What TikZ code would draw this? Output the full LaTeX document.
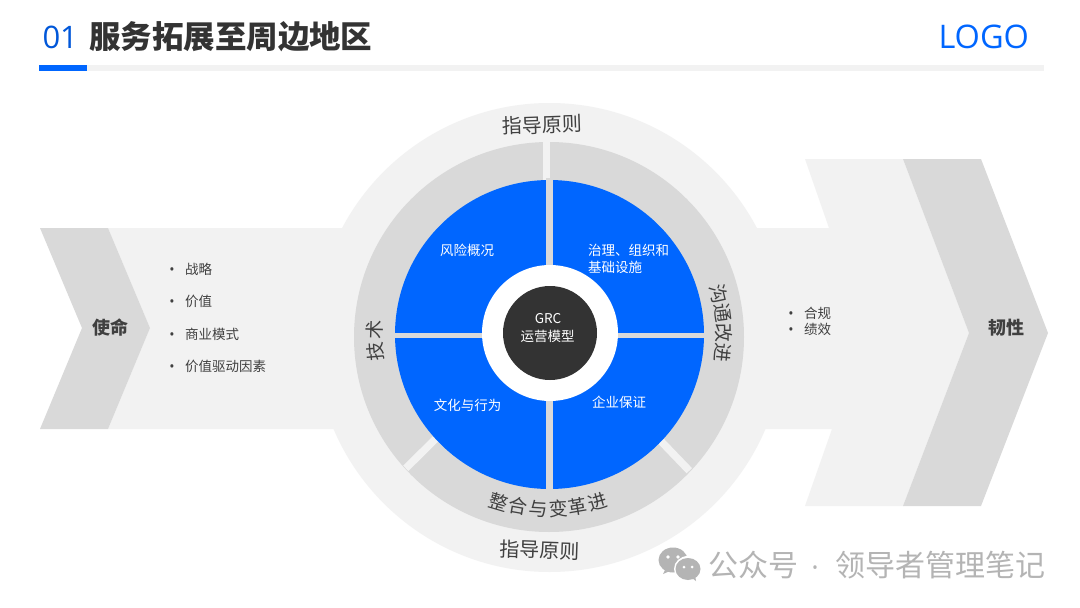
\documentclass[tikz,border=0pt]{standalone}
\usepackage{fontspec}
\setmainfont{Noto Sans CJK SC}
\newfontfamily\latinfont{Open Sans}
\definecolor{bandgray}{HTML}{F2F2F2}
\definecolor{ringgray}{HTML}{D9D9D9}
\definecolor{mainblue}{HTML}{0066FF}
\definecolor{hubdark}{HTML}{333333}
\definecolor{inkgray}{HTML}{404040}
\definecolor{markgray}{HTML}{B4B4B4}
\newcommand{\fsz}[1]{\fontsize{#1}{#1}\selectfont}
\tikzset{
  every node/.style={inner sep=0pt,outer sep=0pt},
  bandshape/.style={fill=bandgray,draw=none},
  chevshape/.style={fill=ringgray,draw=none},
  bluelabel/.style={text=white,font=\fsz{13.5},align=left},
  listlabel/.style={text=inkgray,font=\fsz{13.5},anchor=west},
  bulletmark/.style={text=inkgray,font=\latinfont\fsz{14},anchor=base},
  ringlabel/.style={text=inkgray,font=\fsz{19}},
  sidelabel/.style={text=inkgray,font=\fsz{18}\bfseries},
  ringgap/.style={draw=bandgray,line width=7.5pt},
  sectorgap/.style={draw=ringgray,line width=7pt},
}
\begin{document}
\begin{tikzpicture}[x=1pt,y=-1pt]
\path[fill=white] (0,0) rectangle (1080,608);
\useasboundingbox (0,0) rectangle (1080,608);
% header
\fill[bandgray] (39,65) rectangle (1044,71);
\fill[mainblue] (39,65) rectangle (87,71);
\node[anchor=west,text=mainblue!85!black,font=\latinfont\fsz{31}] (num) at (42.5,37) {01};
\node[anchor=west,text=hubdark,font=\fsz{31.5}\bfseries] (title) at (89,37) {服务拓展至周边地区};
\node[anchor=east,text=mainblue,font=\latinfont\fsz{32.5}] (logo) at (1029,37) {LOGO};
% band and arrows
\path[bandshape] (108,228) -- (829,228) -- (805,159) -- (903,159) -- (969,333) -- (903,506) -- (805,506) -- (832,429) -- (108,429) -- (150,328) -- cycle;
\path[chevshape] (40,228) -- (108,228) -- (150,328) -- (108,429) -- (40,429) -- (82,328) -- cycle;
\path[chevshape] (903,159) -- (981,159) -- (1048,333) -- (981,506) -- (903,506) -- (969,333) -- cycle;
% rings
\fill[bandgray] (549.5,337.5) circle[radius=234.5];
\fill[ringgray] (549,337) circle[radius=195];
\path[ringgap,line width=7pt] (546.5,135) -- (546.5,190);
\path[ringgap] (405.8,468.3) -- (440,434.5);
\path[ringgap] (689.3,470.7) -- (655,435);
\fill[mainblue] (549.5,334.5) circle[radius=154.5];
\path[sectorgap] (549.5,178) -- (549.5,491);
\path[sectorgap,line width=5.5pt] (393,335.5) -- (706,335.5);
\fill[white] (550,333) circle[radius=68];
\fill[hubdark] (550,333) circle[radius=47];
% hub text
\node[text=white,font=\fsz{13.5}] (grc) at (548,319) {GRC};
\node[text=white,font=\fsz{13.5}] (model) at (547.5,336) {运营模型};
% sectors
\node[bluelabel] (s1) at (467,250) {风险概况};
\node[bluelabel,anchor=west] (s2a) at (588,250) {治理、组织和};
\node[bluelabel,anchor=west] (s2b) at (588,267) {基础设施};
\node[bluelabel] (s3) at (467.5,405.5) {文化与行为};
\node[bluelabel] (s4) at (619,402) {企业保证};
% ring labels
\node[ringlabel,font=\fsz{20},rotate=2] (top) at (542,125) {指导原则};
\node[ringlabel,font=\fsz{20},rotate=-2] (bottom) at (540,550) {指导原则};
\foreach \ch/\a [count=\i] in {沟/14,通/7.5,改/1,进/-5.5}{
  \node[ringlabel,rotate=\a-90] (r\i) at ({549+175*cos(\a)},{336-175*sin(\a)}) {\ch};
}
\foreach \ch/\a [count=\i] in {整/-16.5,合/-9.9,与/-3.3,变/3.3,革/9.9,进/16.5}{
  \node[ringlabel,rotate=\a] (b\i) at ({548+175*sin(\a)},{334+175*cos(\a)}) {\ch};
}
\foreach \ch/\a [count=\i] in {技/-5,术/2}{
  \node[ringlabel,rotate=90-\a] (l\i) at ({549-174*cos(\a)},{336-174*sin(\a)}) {\ch};
}
% side labels
\node[sidelabel] (mission) at (110,328) {使命};
\node[sidelabel] (resil) at (1006,328) {韧性};
\foreach \t/\y [count=\i] in {战略/269,价值/301,商业模式/334,价值驱动因素/366}{
  \node[listlabel] (li\i) at (185,\y) {\t};
  \node[bulletmark] (lb\i) at (172,\y+5) {•};
}
\foreach \t/\y [count=\i] in {合规/313,绩效/329}{
  \node[listlabel] (ri\i) at (804,\y) {\t};
  \node[bulletmark] (rb\i) at (791,\y+5) {•};
}
% watermark
\fill[markgray] (673,560) ellipse[x radius=14.5,y radius=12.5];
\fill[markgray] (665,570) -- (663,574) -- (670,571) -- cycle;
\fill[white] (688,569) ellipse[x radius=14,y radius=13];
\fill[markgray] (688,569) ellipse[x radius=12.5,y radius=11];
\fill[markgray] (692,578) -- (696,581) -- (695,575) -- cycle;
\fill[white] (668,557) circle[radius=1.8] (678,557) circle[radius=1.8] (684,567) circle[radius=1.5] (692,567) circle[radius=1.5];
\node[anchor=west,text=markgray,font=\fsz{30}] (wm1) at (708,565) {公众号};
\node[anchor=base,text=markgray,font=\latinfont\fsz{28}] (wm2) at (815,577) {·};
\node[anchor=west,text=markgray,font=\fsz{30}] (wm3) at (835,565) {领导者管理笔记};
\end{tikzpicture}
\end{document}
